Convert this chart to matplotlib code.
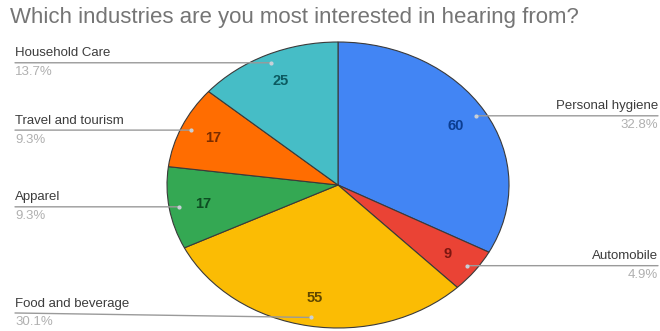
import numpy as np
import matplotlib
matplotlib.use("Agg")
import matplotlib.pyplot as plt
from matplotlib.transforms import blended_transform_factory

plt.rcParams["font.family"] = ["Liberation Sans", "DejaVu Sans"]

# Survey answers
industries = ["Personal hygiene", "Automobile", "Food and beverage",
              "Apparel", "Travel and tourism", "Household Care"]
counts = [60, 9, 55, 17, 17, 25]

slice_colors = ["#4285F4", "#EA4335", "#FBBC04", "#34A853", "#FF6D01", "#46BDC6"]
value_colors = ["#0b3d91", "#7c1610", "#5e4600", "#0d4d22", "#7a2c00", "#0c5a60"]

W, H = 660, 331
fig = plt.figure(figsize=(W / 100, H / 100), dpi=100)
fig.patch.set_facecolor("white")

# pie is drawn as an ellipse: axes box sized to the ellipse, aspect left free
cx, cy, rx, ry = 338, 185, 171, 143
ax = fig.add_axes([(cx - rx) / W, (H - cy - ry) / H, 2 * rx / W, 2 * ry / H])

wedges, _ = ax.pie(
    counts,
    colors=slice_colors,
    startangle=90,
    counterclock=False,
    radius=1,
    wedgeprops={"edgecolor": "#3a3a3a", "linewidth": 0.8},
)
for w in wedges:
    w.set_clip_on(False)
ax.set_xlim(-1, 1)
ax.set_ylim(-1, 1)
ax.set_aspect("auto")
ax.axis("off")

total = sum(counts)
ends = 90 - np.cumsum(counts) / total * 360
starts = ends + np.array(counts) / total * 360
mids = np.radians((starts + ends) / 2)

blend = blended_transform_factory(fig.transFigure, ax.transData)
lowest_label = -0.895  # keep the bottom label inside the figure

for name, val, mid, vcol in zip(industries, counts, mids, value_colors):
    # count inside the slice
    ax.text(0.8 * np.cos(mid), 0.8 * np.sin(mid), str(val),
            ha="center", va="center", fontsize=10.5, fontweight="bold", color=vcol)

    # leader line from slice to side label
    axx, axy = 0.94 * np.cos(mid), 0.94 * np.sin(mid)
    ly = max(axy, lowest_label)
    if axx < 0:
        lx, ha = 15 / W, "left"
    else:
        lx, ha = 658 / W, "right"
    ax.annotate("", xy=(axx, axy), xycoords="data",
                xytext=(lx, ly), textcoords=blend,
                arrowprops=dict(arrowstyle="-", color="#9a9a9a", lw=1.0,
                                shrinkA=0, shrinkB=0))
    ax.plot([axx], [axy], marker="o", ms=2, color="#c8d0d8", zorder=5)
    ax.annotate(name, xy=(lx, ly), xycoords=blend, xytext=(0, 2.5),
                textcoords="offset points", ha=ha, va="bottom",
                fontsize=9.5, color="#3c3c3c", annotation_clip=False)
    ax.annotate(f"{val / total * 100:.1f}%", xy=(lx, ly), xycoords=blend,
                xytext=(0, -2.5), textcoords="offset points", ha=ha, va="top",
                fontsize=9.5, color="#b0b0b0", annotation_clip=False)

fig.text(10 / W, 1 - 18 / H, "Which industries are you most interested in hearing from?",
         ha="left", va="center", fontsize=16, color="#757575")

fig.savefig("out.png", dpi=100, facecolor="white")
